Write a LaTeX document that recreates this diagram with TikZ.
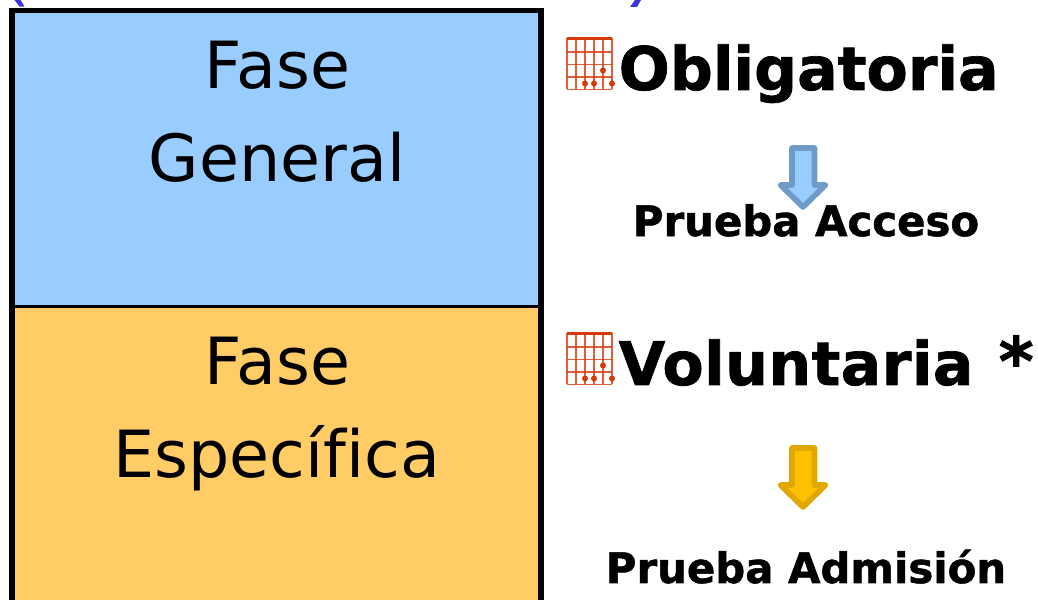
\documentclass[tikz,border=0pt]{standalone}
\usepackage{fontspec}
\setmainfont[Ligatures=NoCommon, BoldFeatures={FakeBold=1.2}]{DejaVu Sans}
\definecolor{faseblue}{HTML}{99CCFF}
\definecolor{faseorange}{HTML}{FFCC66}
\definecolor{arrowblue}{HTML}{6F9BC8}
\definecolor{arrowgold}{HTML}{FFC000}
\definecolor{arrowgoldline}{HTML}{E0A800}
\definecolor{chordred}{HTML}{D63A0A}
\definecolor{parenblue}{HTML}{3A36D8}
\tikzset{
    fasetext/.style={inner sep=0pt, align=center, anchor=base, font=\fontsize{18.5}{26.7}\selectfont},
    bigtext/.style={inner sep=0pt, anchor=base west, font=\fontsize{17.1}{20}\selectfont\bfseries},
    smalltext/.style={inner sep=0pt, anchor=base, font=\fontsize{11.9}{14}\selectfont\bfseries},
    downarrow/.style={line width=1.6pt, line join=round}
}
\begin{document}
\begin{tikzpicture}[x=0.01cm, y=-0.01cm]
    \useasboundingbox (0,0) rectangle (1038,600);
    \clip (0,0) rectangle (1038,600);

    % bits of the brackets above the box
    \fill[parenblue] (14.5,0) -- (20.5,0) -- (24.5,6.5) -- (19.5,6.5) -- cycle;
    \fill[parenblue] (635,0) -- (641,0) -- (637,7) -- (630,7) -- cycle;

    % the two phases
    \fill[faseblue] (12,11) rectangle (541,306);
    \fill[faseorange] (12,306) rectangle (541,620);
    \draw[line width=1.45pt] (12,620) -- (12,10.5) -- (541,10.5) -- (541,620);
    \draw[line width=0.75pt] (12,306.5) -- (541,306.5);

    \node[fasetext] (fase1) at (277.5,88) {Fase};
    \node[fasetext] (general) at (277,182) {General};
    \node[fasetext] (fase2) at (277.5,384) {Fase};
    \node[fasetext] (especifica) at (277,478) {Específica};

    % chord icons
    \foreach \iy in {0,295} {
        \begin{scope}[shift={(0,\iy)}, chordred]
            \foreach \ix in {567,576,585,594,603,612} {
                \draw[line width=0.35pt, opacity=0.8] (\ix,38) -- (\ix,89.5);
            }
            \foreach \ry in {52,64.5,77,89.5} {
                \draw[line width=0.35pt, opacity=0.8] (567,\ry) -- (612,\ry);
            }
            \draw[line width=0.7pt] (567,38.5) -- (612,38.5);
            \foreach \dx/\dy in {585/83.5,594/83.5,612/83.5,603/70.5} {
                \fill (\dx,\dy) circle (3);
            }
        \end{scope}
    }

    \node[bigtext] (obligatoria) at (618,90) {Obligatoria};
    \node[bigtext] (voluntaria) at (618,385) {\addfontfeature{LetterSpace=0.7}Voluntaria\hspace{0.42em}{\fontsize{19}{20}\selectfont *}};

    % arrows
    \draw[downarrow, draw=arrowblue, fill=faseblue] (792,148) -- (814.5,148) -- (814.5,185) -- (825.5,185) -- (803,207) -- (780.5,185) -- (792,185) -- cycle;
    \draw[downarrow, draw=arrowgoldline, fill=arrowgold] (792,448) -- (814.5,448) -- (814.5,485) -- (825.5,485) -- (803,507) -- (780.5,485) -- (792,485) -- cycle;

    \node[smalltext] (acceso) at (806,236) {Prueba Acceso};
    \node[smalltext] (admision) at (806,583) {Prueba Admisión};
\end{tikzpicture}
\end{document}
